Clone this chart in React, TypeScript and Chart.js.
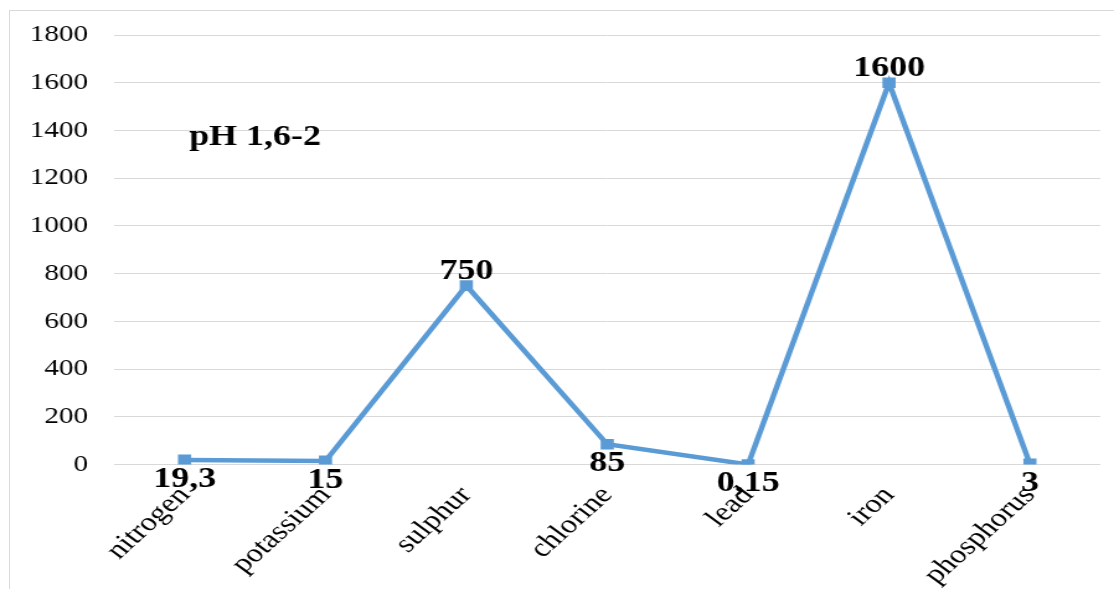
import React, { useEffect, useRef } from "react";
import { Chart, registerables } from "chart.js";

Chart.register(...registerables);

const categories = ["nitrogen", "potassium", "sulphur", "chlorine", "lead", "iron", "phosphorus"];
const values = [19.3, 15, 750, 85, 0.15, 1600, 3];
const valueLabels = ["19,3", "15", "750", "85", "0,15", "1600", "3"];
const yMin = 0;
const yMax = 1800;
const yStep = 200;
const noteText = "pH 1,6-2";
const noteIndex = 0.5;
const noteValue = 1340;

const SERIF = '"Liberation Serif", "Times New Roman", serif';
const STRETCH = 1.24;
const LOGICAL_W = Math.round(1114 / STRETCH);
const H = 589;

const labelPlugin = {
  id: "valueLabels",
  afterDatasetsDraw(chart: any) {
    const ctx = chart.ctx;
    const meta = chart.getDatasetMeta(0);
    ctx.save();
    ctx.font = `bold 29px ${SERIF}`;
    ctx.fillStyle = "#000";
    ctx.textAlign = "center";
    meta.data.forEach((pt: any, i: number) => {
      const v = values[i];
      if (v > 500) {
        ctx.textBaseline = "alphabetic";
        ctx.fillText(valueLabels[i], pt.x, pt.y - 7);
      } else {
        ctx.textBaseline = "top";
        ctx.fillText(valueLabels[i], pt.x, pt.y + 5);
      }
    });
    const xs = chart.scales.x;
    const ys = chart.scales.y;
    ctx.textBaseline = "alphabetic";
    ctx.fillText(noteText, xs.getPixelForValue(noteIndex), ys.getPixelForValue(noteValue));
    ctx.restore();
  },
};

export default function App() {
  const ref = useRef<HTMLCanvasElement | null>(null);
  useEffect(() => {
    if (!ref.current) return;
    const chart = new Chart(ref.current, {
      type: "line",
      data: {
        labels: categories,
        datasets: [
          {
            data: values,
            borderColor: "#5B9BD5",
            backgroundColor: "#5B9BD5",
            borderWidth: 4.5,
            pointStyle: "rect",
            pointRadius: 7.5,
            pointBorderWidth: 0,
            pointBackgroundColor: "#5B9BD5",
            tension: 0,
          },
        ],
      },
      options: {
        animation: false,
        responsive: false,
        layout: { padding: { top: 34, right: 11, left: 0, bottom: 0 } },
        plugins: { legend: { display: false }, tooltip: { enabled: false } },
        scales: {
          x: {
            offset: true,
            grid: { display: false, drawTicks: false },
            border: { display: false },
            ticks: {
              color: "#000",
              font: { family: SERIF, size: 26 },
              minRotation: 48,
              maxRotation: 48,
              padding: 16,
              autoSkip: false,
            },
            afterFit(scale: any) {
              scale.height = 124.5;
            },
          },
          y: {
            min: yMin,
            max: yMax,
            grid: { color: "#d9d9d9", lineWidth: 1, drawTicks: false },
            border: { display: false },
            ticks: {
              stepSize: yStep,
              color: "#000",
              font: { family: SERIF, size: 23.5 },
              padding: 21,
              callback: (v: any) => String(v),
            },
            afterFit(scale: any) {
              scale.width = 92;
            },
          },
        },
      },
      plugins: [labelPlugin],
    });
    return () => chart.destroy();
  }, []);

  return (
    <div
      style={{
        position: "absolute",
        left: 0,
        top: 0,
        width: 1114,
        height: 589,
        overflow: "hidden",
        background: "#fff",
      }}
    >
      <div
        style={{
          position: "absolute",
          left: 9,
          top: 10,
          width: 1200,
          height: 700,
          border: "1px solid #d9d9d9",
        }}
      />
      <div
        style={{
          position: "absolute",
          left: 0,
          top: 0,
          width: LOGICAL_W,
          height: H,
          transform: `scaleX(${1114 / LOGICAL_W})`,
          transformOrigin: "0 0",
        }}
      >
        <canvas ref={ref} width={LOGICAL_W} height={H} style={{ display: "block" }} />
      </div>
    </div>
  );
}
